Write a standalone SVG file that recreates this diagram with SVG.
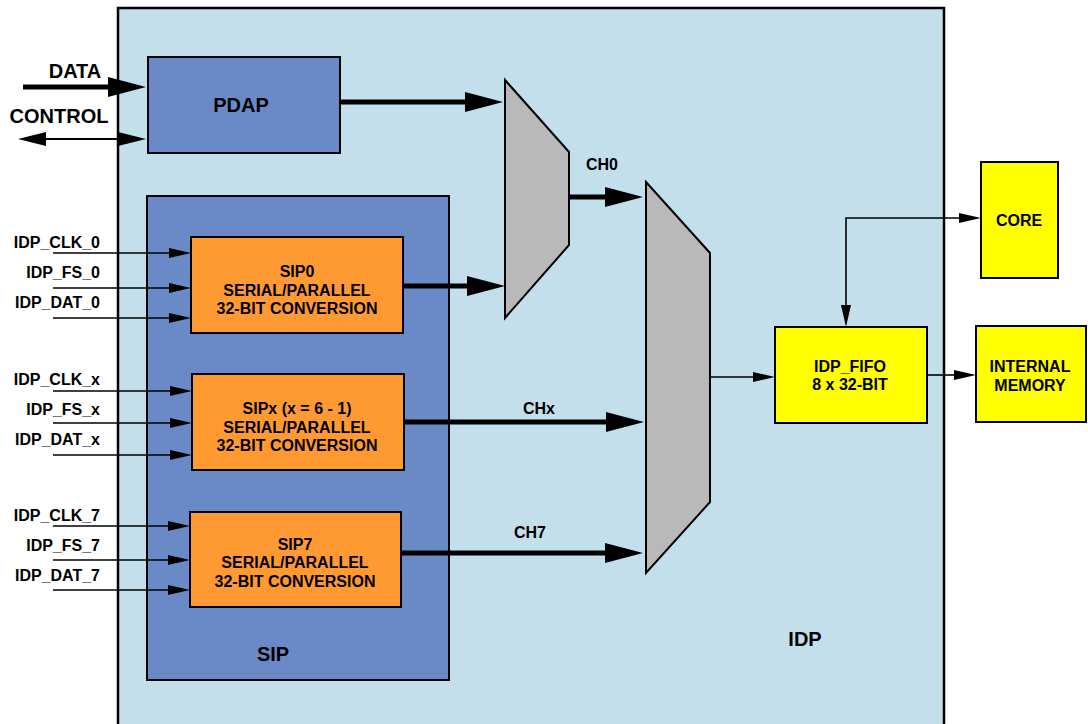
<svg xmlns="http://www.w3.org/2000/svg" width="1088" height="724" viewBox="0 0 1088 724">
<defs>
<style>
text{font-family:"Liberation Sans",Arial,sans-serif;font-weight:bold;fill:#000;}
.big{font-size:20px;}
.lbl{font-size:16px;}
.c{text-anchor:middle;}
.r{text-anchor:end;}
.box{stroke:#000;stroke-width:2;}
.blue{fill:#6a8ac7;}
.org{fill:#ff9a33;}
.yel{fill:#ffff00;}
.mux{fill:#b9b9b9;stroke:#000;stroke-width:2;}
.thick{stroke:#000;stroke-width:5;fill:none;marker-end:url(#ah);}
.thin{stroke:#000;stroke-width:1.6;fill:none;marker-end:url(#as);}
</style>
<marker id="ah" markerUnits="userSpaceOnUse" markerWidth="38" markerHeight="20" refX="0" refY="10" orient="auto" overflow="visible">
<path d="M0,0 L38,10 L0,20 Z" fill="#000"/>
</marker>
<marker id="as" markerUnits="userSpaceOnUse" markerWidth="22" markerHeight="10" refX="0" refY="5" orient="auto" overflow="visible">
<path d="M0,0 L22,5 L0,10 Z" fill="#000"/>
</marker>
<marker id="am" markerUnits="userSpaceOnUse" markerWidth="28" markerHeight="14" refX="0" refY="7" orient="auto-start-reverse" overflow="visible">
<path d="M0,0 L28,7 L0,14 Z" fill="#000"/>
</marker>
<marker id="ac" markerUnits="userSpaceOnUse" markerWidth="22" markerHeight="10" refX="0" refY="5" orient="auto-start-reverse" overflow="visible">
<path d="M0,0 L22,5 L0,10 Z" fill="#000"/>
</marker>
</defs>
<rect width="1088" height="724" fill="#fff"/>

<g id="idp">
<rect x="118" y="8" width="826" height="730" fill="#c3dfec" stroke="#000" stroke-width="2.5"/>
<text class="big c" x="805" y="646">IDP</text>
</g>

<g id="pdap">
<rect class="box blue" x="148" y="57" width="192" height="96"/>
<text class="big c" x="241" y="112">PDAP</text>
</g>

<g id="sip">
<rect class="box blue" x="147" y="196" width="302" height="484"/>
<text class="big c" x="273" y="661">SIP</text>
</g>

<g id="sip0">
<rect class="box org" x="191" y="237" width="212" height="96"/>
<text class="lbl c" x="297" y="277">SIP0</text>
<text class="lbl c" x="297" y="296">SERIAL/PARALLEL</text>
<text class="lbl c" x="297" y="314">32-BIT CONVERSION</text>
</g>

<g id="sipx">
<rect class="box org" x="192" y="374" width="212" height="96"/>
<text class="lbl c" x="297" y="414">SIPx (x = 6 - 1)</text>
<text class="lbl c" x="297" y="433">SERIAL/PARALLEL</text>
<text class="lbl c" x="297" y="451">32-BIT CONVERSION</text>
</g>

<g id="sip7">
<rect class="box org" x="190" y="512" width="211" height="95"/>
<text class="lbl c" x="295" y="550">SIP7</text>
<text class="lbl c" x="295" y="568">SERIAL/PARALLEL</text>
<text class="lbl c" x="295" y="587">32-BIT CONVERSION</text>
</g>

<g id="mux0">
<polygon class="mux" points="505,80 569,152 569,245 505,318"/>
</g>

<g id="mux1">
<polygon class="mux" points="646,182 710,253 710,502 646,573"/>
</g>

<g id="fifo">
<rect class="box yel" x="775" y="327" width="152" height="96"/>
<text class="lbl c" x="850" y="372">IDP_FIFO</text>
<text class="lbl c" x="850" y="390">8 x 32-BIT</text>
</g>

<g id="core">
<rect class="box yel" x="981" y="162" width="77" height="116"/>
<text class="lbl c" x="1019" y="226">CORE</text>
</g>

<g id="mem">
<rect class="box yel" x="976" y="326" width="110" height="96"/>
<text class="lbl c" x="1030" y="372">INTERNAL</text>
<text class="lbl c" x="1030" y="391">MEMORY</text>
</g>

<g id="labels">
<text class="big c" x="75" y="78">DATA</text>
<text class="big c" x="59" y="123">CONTROL</text>
<text class="lbl r" x="100" y="248">IDP_CLK_0</text>
<text class="lbl r" x="100" y="278">IDP_FS_0</text>
<text class="lbl r" x="100" y="308">IDP_DAT_0</text>
<text class="lbl r" x="100" y="385">IDP_CLK_x</text>
<text class="lbl r" x="100" y="415">IDP_FS_x</text>
<text class="lbl r" x="100" y="445">IDP_DAT_x</text>
<text class="lbl r" x="100" y="521">IDP_CLK_7</text>
<text class="lbl r" x="100" y="551">IDP_FS_7</text>
<text class="lbl r" x="100" y="581">IDP_DAT_7</text>
<text class="lbl c" x="602" y="170">CH0</text>
<text class="lbl c" x="539" y="414">CHx</text>
<text class="lbl c" x="530" y="538">CH7</text>
</g>

<g id="connectors">
<line class="thick" x1="23" y1="87" x2="108" y2="87"/>
<line x1="46" y1="139" x2="118" y2="139" stroke="#000" stroke-width="2" marker-start="url(#am)" marker-end="url(#am)"/>
<line class="thick" x1="340" y1="102" x2="465" y2="102"/>
<line class="thick" x1="403" y1="286" x2="467" y2="286"/>
<line class="thick" x1="569" y1="197" x2="605" y2="197"/>
<line class="thick" x1="404" y1="422" x2="606" y2="422"/>
<line class="thick" x1="401" y1="553" x2="605" y2="553"/>
<line class="thin" x1="53" y1="253" x2="169" y2="253"/>
<line class="thin" x1="53" y1="288" x2="169" y2="288"/>
<line class="thin" x1="53" y1="318" x2="169" y2="318"/>
<line class="thin" x1="53" y1="391" x2="170" y2="391"/>
<line class="thin" x1="53" y1="423" x2="170" y2="423"/>
<line class="thin" x1="53" y1="455" x2="170" y2="455"/>
<line class="thin" x1="53" y1="526" x2="168" y2="526"/>
<line class="thin" x1="53" y1="560" x2="168" y2="560"/>
<line class="thin" x1="53" y1="590" x2="168" y2="590"/>
<line class="thin" x1="710" y1="377" x2="753" y2="377"/>
<line class="thin" x1="927" y1="375" x2="954" y2="375"/>
<polyline points="846,305 846,218 959,218" fill="none" stroke="#000" stroke-width="1.6" marker-start="url(#ac)" marker-end="url(#ac)"/>
</g>
</svg>
